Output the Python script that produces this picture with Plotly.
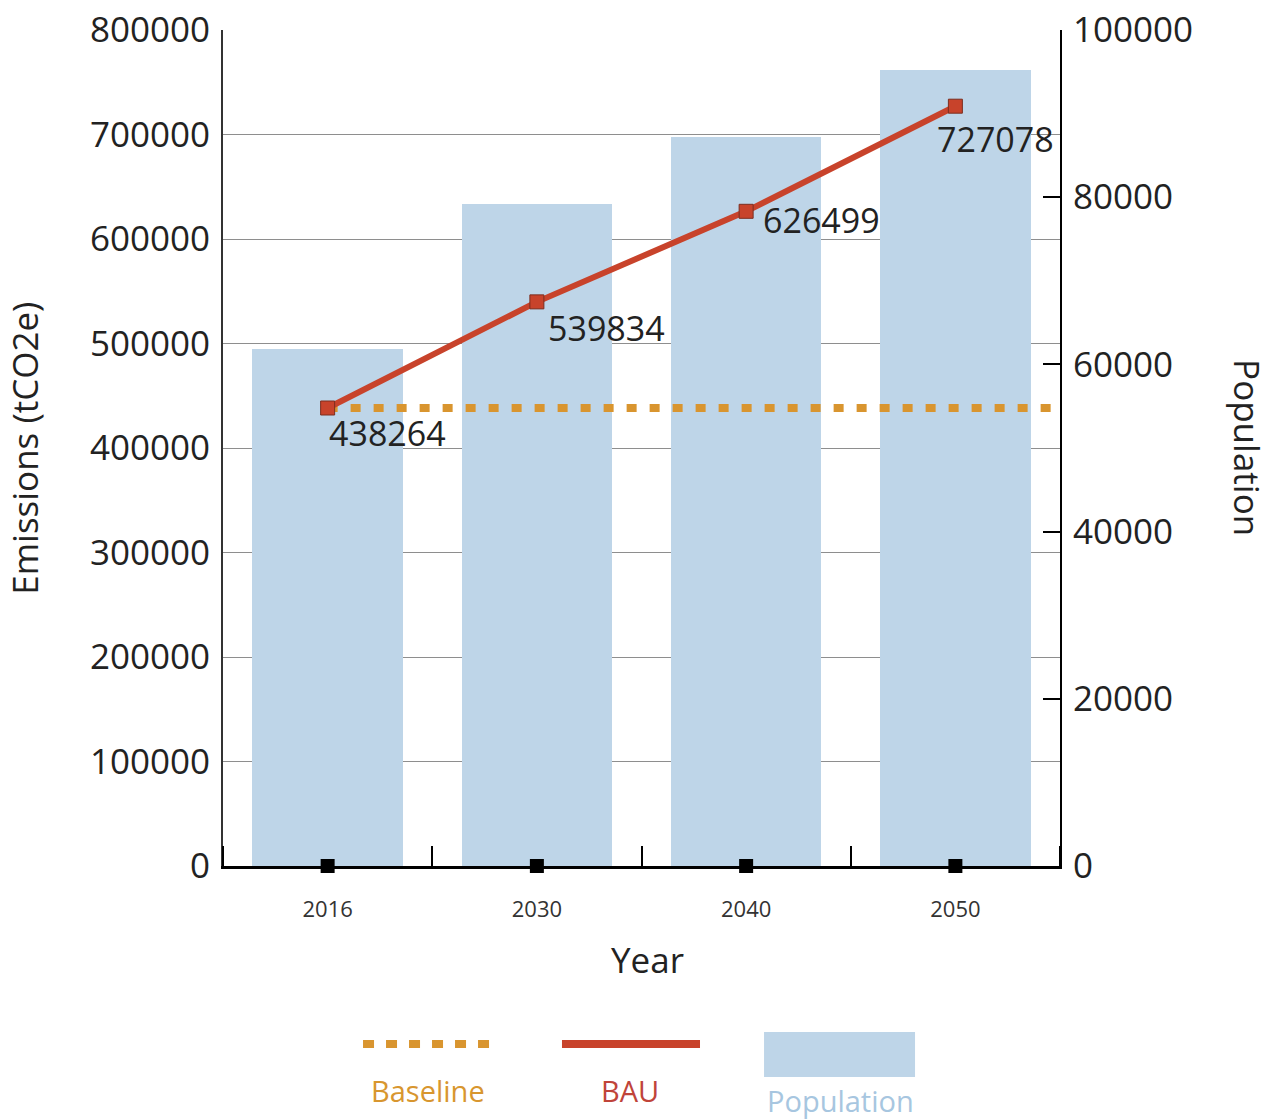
import plotly.graph_objects as go

# Scenario data
YEARS = ["2016", "2030", "2040", "2050"]
BAU = [438264, 539834, 626499, 727078]          # tCO2e
BASELINE = 438264                                 # tCO2e, held flat from 2016
POPULATION = [61850, 79200, 87200, 95200]        # persons

EMIS_TICKS = list(range(0, 800001, 100000))
POP_TICKS = list(range(0, 100001, 20000))

FONT = "Open Sans"
BAR_BLUE = "#bed5e8"
BAU_RED = "#c8432b"
BASE_ORANGE = "#d9952f"

pos = list(range(len(YEARS)))
x_max = len(YEARS) - 0.5

fig = go.Figure()

# Population bars on the right-hand axis (base subplot, drawn underneath)
fig.add_trace(go.Bar(
    x=pos, y=POPULATION, width=0.72,
    marker=dict(color=BAR_BLUE, line=dict(width=0)),
    name="Population", yaxis="y",
))

# Baseline: flat from the first year to the right edge
fig.add_trace(go.Scatter(
    x=[pos[0], x_max], y=[BASELINE, BASELINE], mode="lines",
    line=dict(color=BASE_ORANGE, width=8, dash="10px,13px"),
    name="Baseline", yaxis="y2", cliponaxis=False,
))

# BAU emissions
fig.add_trace(go.Scatter(
    x=pos, y=BAU, mode="lines+markers",
    line=dict(color=BAU_RED, width=6),
    marker=dict(symbol="square", size=14, color=BAU_RED,
                line=dict(color="#7c2e1f", width=1)),
    name="BAU", yaxis="y2",
))

# Category markers sitting on the x axis
fig.add_trace(go.Scatter(
    x=pos, y=[0] * len(pos), mode="markers",
    marker=dict(symbol="square", size=14, color="black"),
    yaxis="y2", cliponaxis=False, showlegend=False, hoverinfo="skip",
))

# Value labels for BAU points (pixel offsets from each marker)
label_dx = [2, 12, 18, -17]
label_dy = [-25, -26, -9, -33]
annotations = []
for xi, v, dx, dy in zip(pos, BAU, label_dx, label_dy):
    annotations.append(dict(
        x=xi, y=v, xref="x", yref="y2", text=str(v), showarrow=False,
        xanchor="left", yanchor="middle", xshift=dx - 3, yshift=dy,
        font=dict(family=FONT, size=34, color="#222222"),
    ))

# Axis titles
annotations += [
    dict(text="Emissions (tCO2e)", x=-0.238, y=0.5, xref="paper", yref="paper",
         textangle=-90, showarrow=False, xanchor="center", yanchor="middle",
         font=dict(family=FONT, size=35, color="#222222")),
    dict(text="Population", x=1.2245, y=0.5, xref="paper", yref="paper",
         textangle=90, showarrow=False, xanchor="center", yanchor="middle",
         font=dict(family=FONT, size=35, color="#222222")),
    dict(text="Year", x=0.5072, y=-0.1124, xref="paper", yref="paper",
         showarrow=False, xanchor="center", yanchor="middle",
         font=dict(family=FONT, size=35, color="#222222")),
]

# Custom legend below the chart: symbol above coloured text
shapes = [
    dict(type="line", xref="paper", yref="paper", x0=0.1673, x1=0.3226,
         y0=-0.2129, y1=-0.2129,
         line=dict(color=BASE_ORANGE, width=8, dash="11px,12px")),
    dict(type="line", xref="paper", yref="paper", x0=0.4050, x1=0.5699,
         y0=-0.2129, y1=-0.2129, line=dict(color=BAU_RED, width=8)),
    dict(type="rect", xref="paper", yref="paper", x0=0.6464, x1=0.8268,
         y0=-0.2524, y1=-0.1986, fillcolor=BAR_BLUE, line=dict(width=0)),
]
annotations += [
    dict(text="Baseline", x=0.2449, y=-0.2691, xref="paper", yref="paper",
         showarrow=False, xanchor="center", yanchor="middle",
         font=dict(family=FONT, size=29, color="#d8962f")),
    dict(text="BAU", x=0.4863, y=-0.2691, xref="paper", yref="paper",
         showarrow=False, xanchor="center", yanchor="middle",
         font=dict(family=FONT, size=29, color="#c0443a")),
    dict(text="Population", x=0.7372, y=-0.2800, xref="paper", yref="paper",
         showarrow=False, xanchor="center", yanchor="middle",
         font=dict(family=FONT, size=29, color="#a7c6e0")),
]

fig.update_layout(
    width=1277, height=1119,
    margin=dict(l=223, r=217, t=30, b=253, autoexpand=False),
    paper_bgcolor="white", plot_bgcolor="white",
    showlegend=False, bargap=0,
    font=dict(family=FONT, color="#222222"),
    xaxis=dict(
        range=[-0.5, x_max], tickmode="array", tickvals=pos, ticktext=YEARS,
        ticks="", showgrid=False, zeroline=False,
        showline=True, linecolor="black", linewidth=3,
        tickfont=dict(family=FONT, size=22, color="#333333"),
        ticklabelstandoff=22,
        minor=dict(tickmode="linear", tick0=0.5, dtick=1, ticks="inside",
                   ticklen=20, tickwidth=2, tickcolor="black", showgrid=False),
        fixedrange=True,
    ),
    yaxis=dict(
        side="right", range=[0, 100000], tickmode="array", tickvals=POP_TICKS,
        tickformat="d", ticks="inside", ticklen=17, tickwidth=2, tickcolor="black",
        showline=True, linecolor="black", linewidth=2,
        showgrid=False, zeroline=False,
        tickfont=dict(family=FONT, size=35, color="#222222"),
        ticklabelstandoff=4,
    ),
    yaxis2=dict(
        overlaying="y", side="left", range=[0, 800000], tickmode="array",
        tickvals=EMIS_TICKS, tickformat="d", ticks="",
        showline=True, linecolor="#333333", linewidth=2,
        showgrid=True, gridcolor="#8e8e8e", gridwidth=1, zeroline=False,
        tickfont=dict(family=FONT, size=35, color="#222222"),
        ticklabelstandoff=4,
    ),
    shapes=shapes,
    annotations=annotations,
)

fig.write_html("out.html")
